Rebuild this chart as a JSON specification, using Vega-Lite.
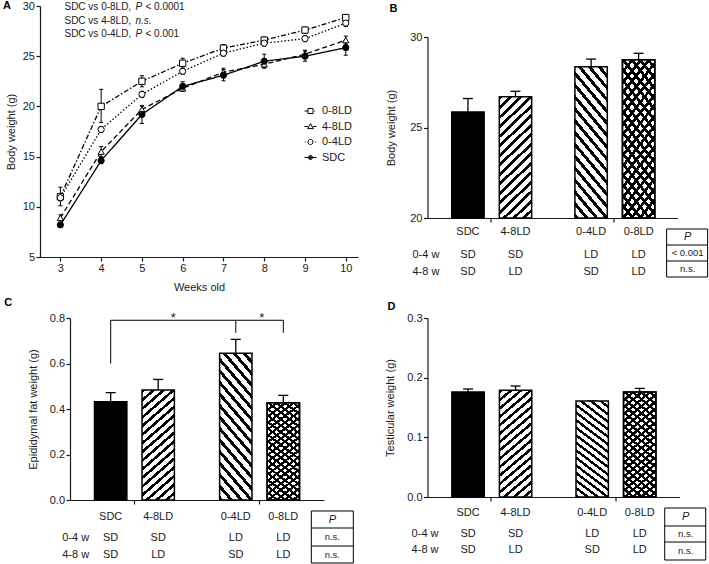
{
"$schema": "https://vega.github.io/schema/vega-lite/v6.json",
"padding": {"left": 2, "top": 0, "right": 0, "bottom": 0},
"spacing": 25.5,
"hconcat": [
{"concat": [
{
"width": 318, "height": 251,
"title": {"text": "A", "dx": -2.8, "dy": 11, "offset": 0},
"layer": [
{
"data": {"values": [
{"g":"0-8LD","week":3,"mean":11.0,"lo":10.1,"hi":11.95},
{"g":"0-8LD","week":4,"mean":20.0,"lo":18.4,"hi":21.7},
{"g":"0-8LD","week":5,"mean":22.5,"lo":21.95,"hi":23.05},
{"g":"0-8LD","week":6,"mean":24.3,"lo":23.8,"hi":24.8},
{"g":"0-8LD","week":7,"mean":25.8,"lo":25.45,"hi":26.15},
{"g":"0-8LD","week":8,"mean":26.6,"lo":26.3,"hi":26.9},
{"g":"0-8LD","week":9,"mean":27.6,"lo":27.3,"hi":27.9},
{"g":"0-8LD","week":10,"mean":28.85,"lo":28.6,"hi":29.1},
{"g":"4-8LD","week":3,"mean":8.9,"lo":8.6,"hi":9.2},
{"g":"4-8LD","week":4,"mean":15.5,"lo":15.0,"hi":16.0},
{"g":"4-8LD","week":5,"mean":19.7,"lo":19.4,"hi":20.0},
{"g":"4-8LD","week":6,"mean":21.8,"lo":21.5,"hi":22.1},
{"g":"4-8LD","week":7,"mean":23.4,"lo":23.0,"hi":23.8},
{"g":"4-8LD","week":8,"mean":24.2,"lo":23.9,"hi":24.5},
{"g":"4-8LD","week":9,"mean":25.2,"lo":24.8,"hi":25.6},
{"g":"4-8LD","week":10,"mean":26.6,"lo":26.2,"hi":27.0},
{"g":"0-4LD","week":3,"mean":10.9,"lo":10.6,"hi":11.2},
{"g":"0-4LD","week":4,"mean":17.7,"lo":17.4,"hi":18.0},
{"g":"0-4LD","week":5,"mean":21.2,"lo":20.9,"hi":21.5},
{"g":"0-4LD","week":6,"mean":23.5,"lo":23.2,"hi":23.8},
{"g":"0-4LD","week":7,"mean":25.3,"lo":25.0,"hi":25.6},
{"g":"0-4LD","week":8,"mean":26.3,"lo":26.0,"hi":26.6},
{"g":"0-4LD","week":9,"mean":26.75,"lo":26.45,"hi":27.05},
{"g":"0-4LD","week":10,"mean":28.3,"lo":27.95,"hi":28.65},
{"g":"SDC","week":3,"mean":8.2,"lo":8.0,"hi":8.4},
{"g":"SDC","week":4,"mean":14.6,"lo":14.3,"hi":14.9},
{"g":"SDC","week":5,"mean":19.2,"lo":18.3,"hi":20.1},
{"g":"SDC","week":6,"mean":22.0,"lo":21.55,"hi":22.45},
{"g":"SDC","week":7,"mean":23.1,"lo":22.55,"hi":23.65},
{"g":"SDC","week":8,"mean":24.5,"lo":23.8,"hi":25.2},
{"g":"SDC","week":9,"mean":25.0,"lo":24.5,"hi":25.5},
{"g":"SDC","week":10,"mean":25.85,"lo":25.1,"hi":26.6}
]},
"encoding": {"x": {"field": "week", "type": "quantitative", "scale": {"domain": [2.5, 10.3], "nice": false, "zero": false}, "axis": {"values": [3,4,5,6,7,8,9,10], "title": "Weeks old", "titlePadding": 8}}},
"layer": [
{"mark": {"type": "rule", "color": "black", "strokeWidth": 1}, "encoding": {"y": {"field": "lo", "type": "quantitative", "scale": {"domain": [5, 30], "nice": false, "zero": false}, "axis": {"values": [5,10,15,20,25,30], "title": "Body weight (g)", "titlePadding": 5.5}}, "y2": {"field": "hi"}}},
{"mark": {"type": "point", "shape": "stroke", "size": 16, "color": "black", "strokeWidth": 1, "opacity": 1}, "encoding": {"y": {"field": "hi", "type": "quantitative"}}},
{"mark": {"type": "point", "shape": "stroke", "size": 16, "color": "black", "strokeWidth": 1, "opacity": 1}, "encoding": {"y": {"field": "lo", "type": "quantitative"}}},
{"mark": {"type": "line", "color": "black", "strokeWidth": 1.3}, "encoding": {"y": {"field": "mean", "type": "quantitative"}, "strokeDash": {"field": "g", "type": "nominal", "scale": {"domain": ["0-8LD","4-8LD","0-4LD","SDC"], "range": [[5,2,1.5,2],[5,3],[1.5,2],[1,0]]}, "legend": null}}},
{"mark": {"type": "point", "stroke": "black", "strokeWidth": 1, "opacity": 1}, "encoding": {"y": {"field": "mean", "type": "quantitative"},
 "shape": {"field": "g", "type": "nominal", "scale": {"domain": ["0-8LD","4-8LD","0-4LD","SDC"], "range": ["square","triangle-up","circle","circle"]}, "legend": null},
 "fill": {"field": "g", "type": "nominal", "scale": {"domain": ["0-8LD","4-8LD","0-4LD","SDC"], "range": ["white","white","white","black"]}, "legend": null},
 "size": {"field": "g", "type": "nominal", "scale": {"domain": ["0-8LD","4-8LD","0-4LD","SDC"], "range": [40,38,34,22]}, "legend": null}}},
{"transform": [{"filter": "false"}], "mark": {"type": "point", "color": "black", "strokeWidth": 1, "opacity": 1}, "encoding": {
 "shape": {"field": "g", "type": "nominal", "scale": {"domain": ["0-8LD","4-8LD","0-4LD","SDC"], "range": ["M-2,0H-0.9M1.3,0H1.6M-0.85,-0.85H0.85V0.85H-0.85Z","M-2,0H-0.9M0.9,0H2M0,-1L0.95,0.7H-0.95Z","M-1.9,0H-1.6M1.6,0H1.9M-0.85,0A0.85,0.85,0,1,1,0.85,0A0.85,0.85,0,1,1,-0.85,0Z","M-2,0H2M-0.7,0A0.7,0.7,0,1,1,0.7,0A0.7,0.7,0,1,1,-0.7,0ZM-0.45,0A0.45,0.45,0,1,1,0.45,0A0.45,0.45,0,1,1,-0.45,0ZM-0.2,0A0.2,0.2,0,1,1,0.2,0A0.2,0.2,0,1,1,-0.2,0Z"]},
   "legend": {"title": null, "orient": "none", "legendX": 265, "legendY": 99.5, "padding": 0, "symbolOffset": 0, "symbolSize": 36, "labelOffset": 6, "rowPadding": 3.5, "labelFontSize": 11, "labelColor": "#1a1a1a", "symbolStrokeColor": "black", "symbolStrokeWidth": 1}}}}
],
"resolve": {"scale": {"shape": "independent"}}
},
{
"data": {"values": [
{"cmp": "SDC vs 0-8LD,", "p": "P", "pv": "< 0.0001"},
{"cmp": "SDC vs 4-8LD,", "p": "n.s.", "pv": ""},
{"cmp": "SDC vs 0-4LD,", "p": "P", "pv": "< 0.001"}
]},
"encoding": {"x": {"datum": 3.1, "type": "quantitative"}, "y": {"field": "cmp", "type": "nominal", "sort": null, "scale": {"type": "point", "domain": ["SDC vs 0-8LD,","SDC vs 4-8LD,","SDC vs 0-4LD,"], "range": [1, 28], "padding": 0}, "axis": null}},
"layer": [
{"mark": {"type": "text", "align": "left", "fontSize": 10}, "encoding": {"text": {"field": "cmp"}}},
{"mark": {"type": "text", "align": "left", "fontSize": 10, "fontStyle": "italic", "dx": 71}, "encoding": {"text": {"field": "p"}}},
{"mark": {"type": "text", "align": "left", "fontSize": 10, "dx": 81}, "encoding": {"text": {"field": "pv"}}}
]
}
],
"resolve": {"scale": {"y": "independent"}}
},
{
"width": 284, "height": 182,
"title": {"text": "C", "dx": -23.2, "offset": 4},
"layer": [
{
"data": {"values": [
{"g":"SDC","p1":"SD","p2":"SD","mean":0.432,"hi":0.472},
{"g":"4-8LD","p1":"SD","p2":"LD","mean":0.484,"hi":0.53},
{"g":"0-4LD","p1":"LD","p2":"SD","mean":0.645,"hi":0.706},
{"g":"0-8LD","p1":"LD","p2":"LD","mean":0.428,"hi":0.46}
]},
"encoding": {
"x": {"field": "p1", "type": "nominal", "sort": null, "scale": {"domain": ["SD","LD"], "range": [30, 284], "paddingInner": 0.2, "paddingOuter": 0.115}, "axis": {"title": null, "labels": false, "bandPosition": 0.5}},
"xOffset": {"field": "p2", "type": "nominal", "sort": null, "scale": {"domain": ["SD","LD"], "paddingInner": 0.319, "paddingOuter": 0.2125}}
},
"layer": [
{"mark": {"type": "rule", "color": "black", "strokeWidth": 1.3}, "encoding": {"y": {"field": "mean", "type": "quantitative", "scale": {"domain": [0, 0.8], "nice": false, "zero": false}, "axis": {"values": [0,0.2,0.4,0.6,0.8], "format": ".1f", "title": "Epididymal fat weight (g)", "titlePadding": 10.7, "offset": -30}}, "y2": {"field": "hi"}}},
{"mark": {"type": "point", "shape": "stroke", "size": 100, "color": "black", "strokeWidth": 1.3, "opacity": 1}, "encoding": {"y": {"field": "hi", "type": "quantitative"}}},
{"transform": [{"filter": "datum.g==='SDC'"}], "mark": {"type": "bar", "fill": "black", "stroke": "black", "strokeWidth": 1.5}, "encoding": {"y": {"field": "mean", "type": "quantitative"}, "y2": {"datum": 0}}},
{"transform": [{"filter": "datum.g==='4-8LD'"}], "mark": {"type": "bar", "style": "hfwd", "stroke": "black", "strokeWidth": 1.5}, "encoding": {"y": {"field": "mean", "type": "quantitative"}, "y2": {"datum": 0}}},
{"transform": [{"filter": "datum.g==='0-4LD'"}], "mark": {"type": "bar", "style": "hback", "stroke": "black", "strokeWidth": 1.5}, "encoding": {"y": {"field": "mean", "type": "quantitative"}, "y2": {"datum": 0}}},
{"transform": [{"filter": "datum.g==='0-8LD'"}], "mark": {"type": "bar", "style": "xa", "stroke": "black", "strokeWidth": 1.5}, "encoding": {"y": {"field": "mean", "type": "quantitative"}, "y2": {"datum": 0}}},
{"transform": [{"filter": "datum.g==='0-8LD'"}], "mark": {"type": "bar", "style": "xb", "stroke": "black", "strokeWidth": 1.5}, "encoding": {"y": {"field": "mean", "type": "quantitative"}, "y2": {"datum": 0}}},
{"mark": {"type": "text", "dy": 17}, "encoding": {"y": {"datum": 0}, "text": {"field": "g"}}},
{"mark": {"type": "text", "dy": 38}, "encoding": {"y": {"datum": 0}, "text": {"field": "p1"}}},
{"mark": {"type": "text", "dy": 55}, "encoding": {"y": {"datum": 0}, "text": {"field": "p2"}}},
{"data": {"values": [{"row": "0-4 w"}]}, "mark": {"type": "text", "dx": -35, "dy": 38}, "encoding": {"x": {"datum": "SD"}, "xOffset": {"datum": "SD"}, "y": {"datum": 0}, "text": {"field": "row"}}},
{"data": {"values": [{"row": "4-8 w"}]}, "mark": {"type": "text", "dx": -35, "dy": 55}, "encoding": {"x": {"datum": "SD"}, "xOffset": {"datum": "SD"}, "y": {"datum": 0}, "text": {"field": "row"}}},
{"data": {"values": [{"head": "P", "p04": "n.s.", "p48": "n.s."}]}, "encoding": {"x": {"datum": "LD"}, "xOffset": {"datum": "LD"}, "y": {"datum": 0}},
 "layer": [
 {"mark": {"type": "point", "shape": "M28,11H70V63H28ZM28,28H70M28,46H70", "size": 4, "stroke": "black", "strokeWidth": 1, "filled": false, "opacity": 1}},
 {"mark": {"type": "text", "dx": 49, "dy": 19.5, "fontStyle": "italic"}, "encoding": {"text": {"field": "head"}}},
 {"mark": {"type": "text", "dx": 49, "dy": 37, "fontSize": 9.5}, "encoding": {"text": {"field": "p04"}}},
 {"mark": {"type": "text", "dx": 49, "dy": 54.5, "fontSize": 9.5}, "encoding": {"text": {"field": "p48"}}}
 ]},
{"data": {"values": [{"p1":"SD","p2":"SD"},{"p1":"LD","p2":"SD"},{"p1":"LD","p2":"LD"}]}, "mark": {"type": "line", "color": "black", "strokeWidth": 1}, "encoding": {"y": {"datum": 0.79}}},
{"data": {"values": [{"p1":"SD","p2":"SD"}]}, "mark": {"type": "rule", "color": "black", "strokeWidth": 1}, "encoding": {"y": {"datum": 0.6}, "y2": {"datum": 0.79}}},
{"data": {"values": [{"p1":"LD","p2":"SD"},{"p1":"LD","p2":"LD"}]}, "mark": {"type": "rule", "color": "black", "strokeWidth": 1}, "encoding": {"y": {"datum": 0.735}, "y2": {"datum": 0.79}}},
{"data": {"values": [{"p1":"SD","p2":"LD","s":"*"}]}, "mark": {"type": "text", "dx": 15, "dy": -2, "fontSize": 13}, "encoding": {"y": {"datum": 0.79}, "text": {"field": "s"}}},
{"data": {"values": [{"p1":"LD","p2":"SD","s":"*"}]}, "mark": {"type": "text", "dx": 26, "dy": -2, "fontSize": 13}, "encoding": {"y": {"datum": 0.79}, "text": {"field": "s"}}}
]
}
]
}
], "columns": 1, "align": "none", "spacing": 4},
{"concat": [
{
"width": 250, "height": 212,
"title": {"text": "B", "dx": 3.5, "dy": 7.5, "offset": 0},
"data": {"values": [
{"g":"SDC","p1":"SD","p2":"SD","mean":25.85,"hi":26.6},
{"g":"4-8LD","p1":"SD","p2":"LD","mean":26.7,"hi":27.0},
{"g":"0-4LD","p1":"LD","p2":"SD","mean":28.35,"hi":28.78},
{"g":"0-8LD","p1":"LD","p2":"LD","mean":28.75,"hi":29.1}
]},
"encoding": {
"x": {"field": "p1", "type": "nominal", "sort": null, "scale": {"domain": ["SD","LD"], "paddingInner": 0.2, "paddingOuter": 0.115}, "axis": {"title": null, "labels": false, "bandPosition": 0.5}},
"xOffset": {"field": "p2", "type": "nominal", "sort": null, "scale": {"domain": ["SD","LD"], "paddingInner": 0.319, "paddingOuter": 0.2125}}
},
"layer": [
{"mark": {"type": "rule", "color": "black", "strokeWidth": 1.3}, "encoding": {"y": {"field": "mean", "type": "quantitative", "scale": {"domain": [20, 30], "range": [212, 31], "nice": false, "zero": false}, "axis": {"values": [20,25,30], "title": "Body weight (g)", "titlePadding": 12.8}}, "y2": {"field": "hi"}}},
{"mark": {"type": "point", "shape": "stroke", "size": 100, "color": "black", "strokeWidth": 1.3, "opacity": 1}, "encoding": {"y": {"field": "hi", "type": "quantitative"}}},
{"transform": [{"filter": "datum.g==='SDC'"}], "mark": {"type": "bar", "fill": "black", "stroke": "black", "strokeWidth": 1.5}, "encoding": {"y": {"field": "mean", "type": "quantitative"}, "y2": {"datum": 20}}},
{"transform": [{"filter": "datum.g==='4-8LD'"}], "mark": {"type": "bar", "style": "hfwd", "stroke": "black", "strokeWidth": 1.5}, "encoding": {"y": {"field": "mean", "type": "quantitative"}, "y2": {"datum": 20}}},
{"transform": [{"filter": "datum.g==='0-4LD'"}], "mark": {"type": "bar", "style": "hback", "stroke": "black", "strokeWidth": 1.5}, "encoding": {"y": {"field": "mean", "type": "quantitative"}, "y2": {"datum": 20}}},
{"transform": [{"filter": "datum.g==='0-8LD'"}], "mark": {"type": "bar", "style": "xa", "stroke": "black", "strokeWidth": 1.5}, "encoding": {"y": {"field": "mean", "type": "quantitative"}, "y2": {"datum": 20}}},
{"transform": [{"filter": "datum.g==='0-8LD'"}], "mark": {"type": "bar", "style": "xb", "stroke": "black", "strokeWidth": 1.5}, "encoding": {"y": {"field": "mean", "type": "quantitative"}, "y2": {"datum": 20}}},
{"mark": {"type": "text", "dy": 14}, "encoding": {"y": {"datum": 20}, "text": {"field": "g"}}},
{"mark": {"type": "text", "dy": 37}, "encoding": {"y": {"datum": 20}, "text": {"field": "p1"}}},
{"mark": {"type": "text", "dy": 54}, "encoding": {"y": {"datum": 20}, "text": {"field": "p2"}}},
{"data": {"values": [{"row": "0-4 w"}]}, "mark": {"type": "text", "dx": -42, "dy": 37}, "encoding": {"x": {"datum": "SD"}, "xOffset": {"datum": "SD"}, "y": {"datum": 20}, "text": {"field": "row"}}},
{"data": {"values": [{"row": "4-8 w"}]}, "mark": {"type": "text", "dx": -42, "dy": 54}, "encoding": {"x": {"datum": "SD"}, "xOffset": {"datum": "SD"}, "y": {"datum": 20}, "text": {"field": "row"}}},
{"data": {"values": [{"head": "P", "p04": "< 0.001", "p48": "n.s."}]}, "encoding": {"x": {"datum": "LD"}, "xOffset": {"datum": "LD"}, "y": {"datum": 20}},
 "layer": [
 {"mark": {"type": "point", "shape": "M28,11H69V59H28ZM28,27H69M28,43H69", "size": 4, "stroke": "black", "strokeWidth": 1, "filled": false, "opacity": 1}},
 {"mark": {"type": "text", "dx": 49, "dy": 19, "fontStyle": "italic"}, "encoding": {"text": {"field": "head"}}},
 {"mark": {"type": "text", "dx": 49, "dy": 35, "fontSize": 9.5}, "encoding": {"text": {"field": "p04"}}},
 {"mark": {"type": "text", "dx": 49, "dy": 51, "fontSize": 9.5}, "encoding": {"text": {"field": "p48"}}}
 ]}
]
},
{
"width": 252, "height": 179,
"title": {"text": "D", "dx": 3.5, "offset": 0.5},
"data": {"values": [
{"g":"SDC","p1":"SD","p2":"SD","mean":0.176,"hi":0.181},
{"g":"4-8LD","p1":"SD","p2":"LD","mean":0.179,"hi":0.186},
{"g":"0-4LD","p1":"LD","p2":"SD","mean":0.161,"hi":0.161},
{"g":"0-8LD","p1":"LD","p2":"LD","mean":0.176,"hi":0.182}
]},
"encoding": {
"x": {"field": "p1", "type": "nominal", "sort": null, "scale": {"domain": ["SD","LD"], "paddingInner": 0.2, "paddingOuter": 0.115}, "axis": {"title": null, "labels": false, "bandPosition": 0.5}},
"xOffset": {"field": "p2", "type": "nominal", "sort": null, "scale": {"domain": ["SD","LD"], "paddingInner": 0.319, "paddingOuter": 0.2125}}
},
"layer": [
{"mark": {"type": "rule", "color": "black", "strokeWidth": 1.3}, "encoding": {"y": {"field": "mean", "type": "quantitative", "scale": {"domain": [0, 0.3], "nice": false, "zero": false}, "axis": {"values": [0,0.1,0.2,0.3], "format": ".1f", "title": "Testicular weight (g)", "titlePadding": 11.7}}, "y2": {"field": "hi"}}},
{"mark": {"type": "point", "shape": "stroke", "size": 100, "color": "black", "strokeWidth": 1.3, "opacity": 1}, "encoding": {"y": {"field": "hi", "type": "quantitative"}}},
{"transform": [{"filter": "datum.g==='SDC'"}], "mark": {"type": "bar", "fill": "black", "stroke": "black", "strokeWidth": 1.5}, "encoding": {"y": {"field": "mean", "type": "quantitative"}, "y2": {"datum": 0}}},
{"transform": [{"filter": "datum.g==='4-8LD'"}], "mark": {"type": "bar", "style": "hfwd", "stroke": "black", "strokeWidth": 1.5}, "encoding": {"y": {"field": "mean", "type": "quantitative"}, "y2": {"datum": 0}}},
{"transform": [{"filter": "datum.g==='0-4LD'"}], "mark": {"type": "bar", "style": "hback", "stroke": "black", "strokeWidth": 1.5}, "encoding": {"y": {"field": "mean", "type": "quantitative"}, "y2": {"datum": 0}}},
{"transform": [{"filter": "datum.g==='0-8LD'"}], "mark": {"type": "bar", "style": "xa", "stroke": "black", "strokeWidth": 1.5}, "encoding": {"y": {"field": "mean", "type": "quantitative"}, "y2": {"datum": 0}}},
{"transform": [{"filter": "datum.g==='0-8LD'"}], "mark": {"type": "bar", "style": "xb", "stroke": "black", "strokeWidth": 1.5}, "encoding": {"y": {"field": "mean", "type": "quantitative"}, "y2": {"datum": 0}}},
{"mark": {"type": "text", "dy": 16}, "encoding": {"y": {"datum": 0}, "text": {"field": "g"}}},
{"mark": {"type": "text", "dy": 37}, "encoding": {"y": {"datum": 0}, "text": {"field": "p1"}}},
{"mark": {"type": "text", "dy": 53}, "encoding": {"y": {"datum": 0}, "text": {"field": "p2"}}},
{"data": {"values": [{"row": "0-4 w"}]}, "mark": {"type": "text", "dx": -43, "dy": 37}, "encoding": {"x": {"datum": "SD"}, "xOffset": {"datum": "SD"}, "y": {"datum": 0}, "text": {"field": "row"}}},
{"data": {"values": [{"row": "4-8 w"}]}, "mark": {"type": "text", "dx": -43, "dy": 53}, "encoding": {"x": {"datum": "SD"}, "xOffset": {"datum": "SD"}, "y": {"datum": 0}, "text": {"field": "row"}}},
{"data": {"values": [{"head": "P", "p04": "n.s.", "p48": "n.s."}]}, "encoding": {"x": {"datum": "LD"}, "xOffset": {"datum": "LD"}, "y": {"datum": 0}},
 "layer": [
 {"mark": {"type": "point", "shape": "M25,11H66V63H25ZM25,29H66M25,45H66", "size": 4, "stroke": "black", "strokeWidth": 1, "filled": false, "opacity": 1}},
 {"mark": {"type": "text", "dx": 46, "dy": 20, "fontStyle": "italic"}, "encoding": {"text": {"field": "head"}}},
 {"mark": {"type": "text", "dx": 46, "dy": 37, "fontSize": 9.5}, "encoding": {"text": {"field": "p04"}}},
 {"mark": {"type": "text", "dx": 46, "dy": 54, "fontSize": 9.5}, "encoding": {"text": {"field": "p48"}}}
 ]}
]
}
], "columns": 1, "align": "none", "spacing": 21}
],
"config": {
"font": "Liberation Sans",
"view": {"stroke": null},
"axis": {"domainColor": "#1a1a1a", "domainWidth": 1.2, "tickColor": "#1a1a1a", "tickWidth": 1.2, "tickSize": 4, "labelFontSize": 11, "labelColor": "#1a1a1a", "labelPadding": 1.5, "titleFontSize": 11, "titleFontWeight": "normal", "titleColor": "#1a1a1a", "grid": false, "labelFont": "Liberation Sans", "titleFont": "Liberation Sans"},
"text": {"fontSize": 11, "color": "#1a1a1a", "font": "Liberation Sans"},
"title": {"anchor": "start", "frame": "bounds", "fontSize": 11, "fontWeight": "bold", "color": "#000", "font": "Liberation Sans"},
"legend": {"labelFont": "Liberation Sans"},
"style": {
"hfwd": {"color": {"gradient": "linear", "x1": 0, "y1": 0, "x2": 0.3018, "y2": 1.1788, "stops": [{"offset":0,"color":"#000"},{"offset":0.025,"color":"#000"},{"offset":0.025,"color":"#fff"},{"offset":0.0625,"color":"#fff"},{"offset":0.0625,"color":"#000"},{"offset":0.0875,"color":"#000"},{"offset":0.0875,"color":"#fff"},{"offset":0.125,"color":"#fff"},{"offset":0.125,"color":"#000"},{"offset":0.15,"color":"#000"},{"offset":0.15,"color":"#fff"},{"offset":0.1875,"color":"#fff"},{"offset":0.1875,"color":"#000"},{"offset":0.2125,"color":"#000"},{"offset":0.2125,"color":"#fff"},{"offset":0.25,"color":"#fff"},{"offset":0.25,"color":"#000"},{"offset":0.275,"color":"#000"},{"offset":0.275,"color":"#fff"},{"offset":0.3125,"color":"#fff"},{"offset":0.3125,"color":"#000"},{"offset":0.3375,"color":"#000"},{"offset":0.3375,"color":"#fff"},{"offset":0.375,"color":"#fff"},{"offset":0.375,"color":"#000"},{"offset":0.4,"color":"#000"},{"offset":0.4,"color":"#fff"},{"offset":0.4375,"color":"#fff"},{"offset":0.4375,"color":"#000"},{"offset":0.4625,"color":"#000"},{"offset":0.4625,"color":"#fff"},{"offset":0.5,"color":"#fff"},{"offset":0.5,"color":"#000"},{"offset":0.525,"color":"#000"},{"offset":0.525,"color":"#fff"},{"offset":0.5625,"color":"#fff"},{"offset":0.5625,"color":"#000"},{"offset":0.5875,"color":"#000"},{"offset":0.5875,"color":"#fff"},{"offset":0.625,"color":"#fff"},{"offset":0.625,"color":"#000"},{"offset":0.65,"color":"#000"},{"offset":0.65,"color":"#fff"},{"offset":0.6875,"color":"#fff"},{"offset":0.6875,"color":"#000"},{"offset":0.7125,"color":"#000"},{"offset":0.7125,"color":"#fff"},{"offset":0.75,"color":"#fff"},{"offset":0.75,"color":"#000"},{"offset":0.775,"color":"#000"},{"offset":0.775,"color":"#fff"},{"offset":0.8125,"color":"#fff"},{"offset":0.8125,"color":"#000"},{"offset":0.8375,"color":"#000"},{"offset":0.8375,"color":"#fff"},{"offset":0.875,"color":"#fff"},{"offset":0.875,"color":"#000"},{"offset":0.9,"color":"#000"},{"offset":0.9,"color":"#fff"},{"offset":0.9375,"color":"#fff"},{"offset":0.9375,"color":"#000"},{"offset":0.9625,"color":"#000"},{"offset":0.9625,"color":"#fff"},{"offset":1,"color":"#fff"}]}},
"hback": {"color": {"gradient": "linear", "x1": 0, "y1": 1, "x2": 0.3018, "y2": -0.1788, "stops": [{"offset":0,"color":"#000"},{"offset":0.025,"color":"#000"},{"offset":0.025,"color":"#fff"},{"offset":0.0625,"color":"#fff"},{"offset":0.0625,"color":"#000"},{"offset":0.0875,"color":"#000"},{"offset":0.0875,"color":"#fff"},{"offset":0.125,"color":"#fff"},{"offset":0.125,"color":"#000"},{"offset":0.15,"color":"#000"},{"offset":0.15,"color":"#fff"},{"offset":0.1875,"color":"#fff"},{"offset":0.1875,"color":"#000"},{"offset":0.2125,"color":"#000"},{"offset":0.2125,"color":"#fff"},{"offset":0.25,"color":"#fff"},{"offset":0.25,"color":"#000"},{"offset":0.275,"color":"#000"},{"offset":0.275,"color":"#fff"},{"offset":0.3125,"color":"#fff"},{"offset":0.3125,"color":"#000"},{"offset":0.3375,"color":"#000"},{"offset":0.3375,"color":"#fff"},{"offset":0.375,"color":"#fff"},{"offset":0.375,"color":"#000"},{"offset":0.4,"color":"#000"},{"offset":0.4,"color":"#fff"},{"offset":0.4375,"color":"#fff"},{"offset":0.4375,"color":"#000"},{"offset":0.4625,"color":"#000"},{"offset":0.4625,"color":"#fff"},{"offset":0.5,"color":"#fff"},{"offset":0.5,"color":"#000"},{"offset":0.525,"color":"#000"},{"offset":0.525,"color":"#fff"},{"offset":0.5625,"color":"#fff"},{"offset":0.5625,"color":"#000"},{"offset":0.5875,"color":"#000"},{"offset":0.5875,"color":"#fff"},{"offset":0.625,"color":"#fff"},{"offset":0.625,"color":"#000"},{"offset":0.65,"color":"#000"},{"offset":0.65,"color":"#fff"},{"offset":0.6875,"color":"#fff"},{"offset":0.6875,"color":"#000"},{"offset":0.7125,"color":"#000"},{"offset":0.7125,"color":"#fff"},{"offset":0.75,"color":"#fff"},{"offset":0.75,"color":"#000"},{"offset":0.775,"color":"#000"},{"offset":0.775,"color":"#fff"},{"offset":0.8125,"color":"#fff"},{"offset":0.8125,"color":"#000"},{"offset":0.8375,"color":"#000"},{"offset":0.8375,"color":"#fff"},{"offset":0.875,"color":"#fff"},{"offset":0.875,"color":"#000"},{"offset":0.9,"color":"#000"},{"offset":0.9,"color":"#fff"},{"offset":0.9375,"color":"#fff"},{"offset":0.9375,"color":"#000"},{"offset":0.9625,"color":"#000"},{"offset":0.9625,"color":"#fff"},{"offset":1,"color":"#fff"}]}},
"xa": {"color": {"gradient": "linear", "x1": 0, "y1": 0, "x2": 0.3018, "y2": 1.1788, "stops": [{"offset":0,"color":"#000"},{"offset":0.0221,"color":"#000"},{"offset":0.0221,"color":"#fff"},{"offset":0.0526,"color":"#fff"},{"offset":0.0526,"color":"#000"},{"offset":0.0747,"color":"#000"},{"offset":0.0747,"color":"#fff"},{"offset":0.1053,"color":"#fff"},{"offset":0.1053,"color":"#000"},{"offset":0.1274,"color":"#000"},{"offset":0.1274,"color":"#fff"},{"offset":0.1579,"color":"#fff"},{"offset":0.1579,"color":"#000"},{"offset":0.18,"color":"#000"},{"offset":0.18,"color":"#fff"},{"offset":0.2105,"color":"#fff"},{"offset":0.2105,"color":"#000"},{"offset":0.2326,"color":"#000"},{"offset":0.2326,"color":"#fff"},{"offset":0.2632,"color":"#fff"},{"offset":0.2632,"color":"#000"},{"offset":0.2853,"color":"#000"},{"offset":0.2853,"color":"#fff"},{"offset":0.3158,"color":"#fff"},{"offset":0.3158,"color":"#000"},{"offset":0.3379,"color":"#000"},{"offset":0.3379,"color":"#fff"},{"offset":0.3684,"color":"#fff"},{"offset":0.3684,"color":"#000"},{"offset":0.3905,"color":"#000"},{"offset":0.3905,"color":"#fff"},{"offset":0.4211,"color":"#fff"},{"offset":0.4211,"color":"#000"},{"offset":0.4432,"color":"#000"},{"offset":0.4432,"color":"#fff"},{"offset":0.4737,"color":"#fff"},{"offset":0.4737,"color":"#000"},{"offset":0.4958,"color":"#000"},{"offset":0.4958,"color":"#fff"},{"offset":0.5263,"color":"#fff"},{"offset":0.5263,"color":"#000"},{"offset":0.5484,"color":"#000"},{"offset":0.5484,"color":"#fff"},{"offset":0.5789,"color":"#fff"},{"offset":0.5789,"color":"#000"},{"offset":0.601,"color":"#000"},{"offset":0.601,"color":"#fff"},{"offset":0.6316,"color":"#fff"},{"offset":0.6316,"color":"#000"},{"offset":0.6537,"color":"#000"},{"offset":0.6537,"color":"#fff"},{"offset":0.6842,"color":"#fff"},{"offset":0.6842,"color":"#000"},{"offset":0.7063,"color":"#000"},{"offset":0.7063,"color":"#fff"},{"offset":0.7368,"color":"#fff"},{"offset":0.7368,"color":"#000"},{"offset":0.7589,"color":"#000"},{"offset":0.7589,"color":"#fff"},{"offset":0.7895,"color":"#fff"},{"offset":0.7895,"color":"#000"},{"offset":0.8116,"color":"#000"},{"offset":0.8116,"color":"#fff"},{"offset":0.8421,"color":"#fff"},{"offset":0.8421,"color":"#000"},{"offset":0.8642,"color":"#000"},{"offset":0.8642,"color":"#fff"},{"offset":0.8947,"color":"#fff"},{"offset":0.8947,"color":"#000"},{"offset":0.9168,"color":"#000"},{"offset":0.9168,"color":"#fff"},{"offset":0.9474,"color":"#fff"},{"offset":0.9474,"color":"#000"},{"offset":0.9695,"color":"#000"},{"offset":0.9695,"color":"#fff"},{"offset":1,"color":"#fff"}]}},
"xb": {"color": {"gradient": "linear", "x1": 0, "y1": 1, "x2": 0.3018, "y2": -0.1788, "stops": [{"offset":0,"color":"#000"},{"offset":0.0221,"color":"#000"},{"offset":0.0221,"color":"rgba(0,0,0,0)"},{"offset":0.0526,"color":"rgba(0,0,0,0)"},{"offset":0.0526,"color":"#000"},{"offset":0.0747,"color":"#000"},{"offset":0.0747,"color":"rgba(0,0,0,0)"},{"offset":0.1053,"color":"rgba(0,0,0,0)"},{"offset":0.1053,"color":"#000"},{"offset":0.1274,"color":"#000"},{"offset":0.1274,"color":"rgba(0,0,0,0)"},{"offset":0.1579,"color":"rgba(0,0,0,0)"},{"offset":0.1579,"color":"#000"},{"offset":0.18,"color":"#000"},{"offset":0.18,"color":"rgba(0,0,0,0)"},{"offset":0.2105,"color":"rgba(0,0,0,0)"},{"offset":0.2105,"color":"#000"},{"offset":0.2326,"color":"#000"},{"offset":0.2326,"color":"rgba(0,0,0,0)"},{"offset":0.2632,"color":"rgba(0,0,0,0)"},{"offset":0.2632,"color":"#000"},{"offset":0.2853,"color":"#000"},{"offset":0.2853,"color":"rgba(0,0,0,0)"},{"offset":0.3158,"color":"rgba(0,0,0,0)"},{"offset":0.3158,"color":"#000"},{"offset":0.3379,"color":"#000"},{"offset":0.3379,"color":"rgba(0,0,0,0)"},{"offset":0.3684,"color":"rgba(0,0,0,0)"},{"offset":0.3684,"color":"#000"},{"offset":0.3905,"color":"#000"},{"offset":0.3905,"color":"rgba(0,0,0,0)"},{"offset":0.4211,"color":"rgba(0,0,0,0)"},{"offset":0.4211,"color":"#000"},{"offset":0.4432,"color":"#000"},{"offset":0.4432,"color":"rgba(0,0,0,0)"},{"offset":0.4737,"color":"rgba(0,0,0,0)"},{"offset":0.4737,"color":"#000"},{"offset":0.4958,"color":"#000"},{"offset":0.4958,"color":"rgba(0,0,0,0)"},{"offset":0.5263,"color":"rgba(0,0,0,0)"},{"offset":0.5263,"color":"#000"},{"offset":0.5484,"color":"#000"},{"offset":0.5484,"color":"rgba(0,0,0,0)"},{"offset":0.5789,"color":"rgba(0,0,0,0)"},{"offset":0.5789,"color":"#000"},{"offset":0.601,"color":"#000"},{"offset":0.601,"color":"rgba(0,0,0,0)"},{"offset":0.6316,"color":"rgba(0,0,0,0)"},{"offset":0.6316,"color":"#000"},{"offset":0.6537,"color":"#000"},{"offset":0.6537,"color":"rgba(0,0,0,0)"},{"offset":0.6842,"color":"rgba(0,0,0,0)"},{"offset":0.6842,"color":"#000"},{"offset":0.7063,"color":"#000"},{"offset":0.7063,"color":"rgba(0,0,0,0)"},{"offset":0.7368,"color":"rgba(0,0,0,0)"},{"offset":0.7368,"color":"#000"},{"offset":0.7589,"color":"#000"},{"offset":0.7589,"color":"rgba(0,0,0,0)"},{"offset":0.7895,"color":"rgba(0,0,0,0)"},{"offset":0.7895,"color":"#000"},{"offset":0.8116,"color":"#000"},{"offset":0.8116,"color":"rgba(0,0,0,0)"},{"offset":0.8421,"color":"rgba(0,0,0,0)"},{"offset":0.8421,"color":"#000"},{"offset":0.8642,"color":"#000"},{"offset":0.8642,"color":"rgba(0,0,0,0)"},{"offset":0.8947,"color":"rgba(0,0,0,0)"},{"offset":0.8947,"color":"#000"},{"offset":0.9168,"color":"#000"},{"offset":0.9168,"color":"rgba(0,0,0,0)"},{"offset":0.9474,"color":"rgba(0,0,0,0)"},{"offset":0.9474,"color":"#000"},{"offset":0.9695,"color":"#000"},{"offset":0.9695,"color":"rgba(0,0,0,0)"},{"offset":1,"color":"rgba(0,0,0,0)"}]}}
}
}
}
